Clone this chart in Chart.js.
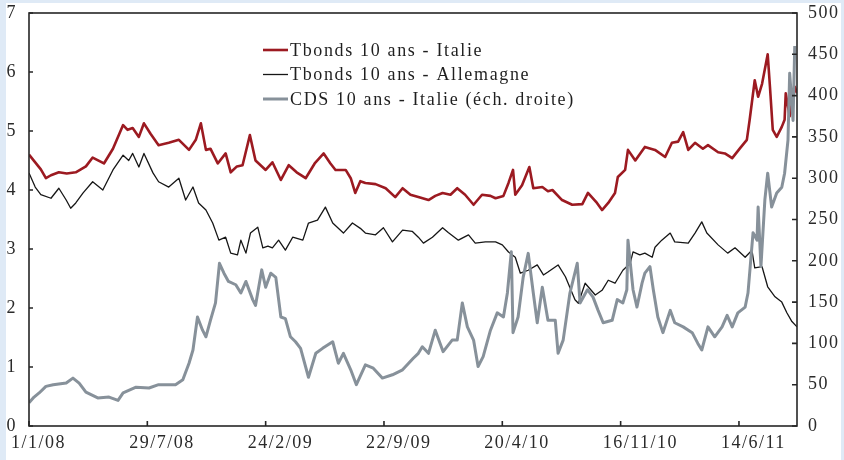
<!DOCTYPE html>
<html>
<head>
<meta charset="utf-8">
<script src="https://cdn.jsdelivr.net/npm/chart.js@4.4.0/dist/chart.umd.min.js"></script>
<style>
  html, body { margin: 0; padding: 0; background: #dfeaf6; }
  canvas { display: block; }
</style>
</head>
<body>
<canvas id="graf" width="844" height="460"></canvas>
<script>
// axe des x : jours depuis le 1/1/08
const tickDays = [0, 210, 420, 630, 840, 1050, 1260];
const tickLabels = ['1/1/08', '29/7/08', '24/2/09', '22/9/09', '20/4/10', '16/11/10', '14/6/11'];
const lastDay = 1363;

const italieJours = [0,21,30,39,53,67,83,101,113,133,149,167,175,184,195,204,216,230,248,266,
  284,296,305,314,322,335,349,358,369,379,392,402,420,432,447,461,475,491,507,523,
  535,544,562,571,579,588,597,615,633,650,663,677,691,709,721,734,748,760,774,789,
  804,819,828,842,851,859,863,875,888,895,911,921,929,946,964,982,992,1008,1017,1028,
  1040,1045,1058,1063,1076,1093,1111,1129,1141,1152,1161,1170,1182,1196,1205,1223,1235,1248,1262,1274,
  1279,1288,1294,1301,1311,1315,1320,1327,1336,1341,1343,1350,1359,1363];
const italieTaux = [4.6,4.35,4.2,4.25,4.3,4.28,4.3,4.4,4.55,4.45,4.7,5.1,5.02,5.05,4.9,5.13,4.95,4.76,4.8,4.85,
  4.68,4.85,5.13,4.68,4.7,4.45,4.62,4.3,4.4,4.42,4.93,4.5,4.34,4.47,4.17,4.42,4.3,4.2,4.45,4.62,
  4.45,4.34,4.34,4.2,3.95,4.15,4.12,4.1,4.03,3.88,4.03,3.92,3.88,3.83,3.9,3.95,3.92,4.03,3.92,3.75,
  3.92,3.9,3.86,3.9,4.12,4.34,3.92,4.08,4.39,4.03,4.05,3.98,4.0,3.83,3.75,3.76,3.95,3.78,3.66,3.78,
  3.95,4.22,4.34,4.68,4.5,4.73,4.68,4.56,4.8,4.82,4.98,4.68,4.8,4.7,4.76,4.64,4.62,4.54,4.71,4.85,
  5.19,5.86,5.58,5.8,6.3,5.75,5.02,4.9,5.07,5.19,5.64,5.25,5.75,5.64];

const allemagneJours = [0,11,21,39,53,66,74,83,96,113,131,149,167,177,184,195,204,220,230,248,
  266,278,291,301,314,326,337,349,358,370,376,385,393,406,415,424,432,443,455,468,
  486,496,512,526,539,558,574,588,597,615,629,645,663,680,691,700,716,734,744,762,
  780,792,810,828,840,851,863,872,886,902,913,921,939,952,969,975,987,1005,1017,1028,
  1040,1054,1067,1072,1084,1093,1106,1111,1123,1138,1146,1170,1182,1194,1203,1223,1240,1253,1271,1283,
  1288,1301,1311,1324,1336,1345,1354,1363];
const allemagneTaux = [4.29,4.05,3.92,3.86,4.03,3.83,3.69,3.78,3.95,4.14,4.0,4.34,4.59,4.5,4.62,4.39,4.62,4.29,4.14,4.05,
  4.2,3.83,4.05,3.78,3.66,3.44,3.15,3.2,2.93,2.9,3.15,2.93,3.27,3.37,3.02,3.05,3.02,3.15,2.98,3.2,
  3.15,3.44,3.49,3.71,3.44,3.27,3.44,3.35,3.27,3.24,3.36,3.12,3.32,3.3,3.2,3.1,3.2,3.36,3.28,3.15,
  3.24,3.1,3.12,3.12,3.07,2.95,2.86,2.59,2.64,2.73,2.56,2.61,2.73,2.53,2.14,2.08,2.42,2.22,2.3,2.47,
  2.42,2.64,2.76,2.95,2.9,2.93,2.86,3.03,3.15,3.27,3.12,3.1,3.27,3.46,3.27,3.07,2.93,3.02,2.86,2.98,
  2.68,2.7,2.36,2.19,2.1,1.92,1.77,1.68];

const cdsJours = [0,9,18,30,43,66,78,89,101,122,142,158,167,190,213,230,260,273,284,291,
  299,308,314,322,331,338,346,354,367,376,385,397,402,413,420,429,438,447,455,464,
  473,482,496,509,521,539,549,558,571,581,597,611,627,645,663,682,691,698,709,721,
  735,751,760,769,778,789,797,806,819,831,842,849,856,859,868,877,886,895,902,911,
  921,934,939,948,960,973,978,991,1001,1010,1019,1035,1044,1054,1061,1063,1072,1079,1088,1093,
  1102,1108,1116,1125,1138,1146,1161,1177,1187,1194,1205,1217,1230,1239,1248,1258,1271,1276,1285,1292,
  1294,1299,1306,1311,1318,1327,1336,1341,1347,1350,1356,1359];
const cdsItalie = [28,35,40,48,50,52,58,52,41,34,35,31,40,47,46,50,50,56,76,92,
  132,116,108,128,149,197,185,175,171,161,175,153,146,189,168,185,180,132,130,108,
  102,94,59,88,94,102,76,88,68,50,74,70,58,62,68,82,88,96,88,116,
  90,104,104,149,120,104,72,84,116,137,132,161,211,113,132,180,209,161,125,168,
  128,128,88,104,161,197,149,165,156,140,125,128,153,149,165,225,165,144,173,185,
  193,165,132,113,140,125,120,113,100,92,120,108,120,134,120,137,144,161,234,225,
  265,193,274,306,265,282,289,306,346,427,370,460];

function points(jours, vals) {
  return jours.map((j, i) => ({ x: j, y: vals[i] }));
}

const police = '"Liberation Serif", "DejaVu Serif", serif';

const decor = {
  id: 'decor',
  beforeDraw(chart) {
    const ctx = chart.ctx;
    ctx.save();
    ctx.fillStyle = '#dfeaf6';
    ctx.fillRect(0, 0, 844, 460);
    ctx.fillStyle = '#ffffff';
    ctx.fillRect(6, 3, 835, 457);
    ctx.restore();
    ctx.letterSpacing = '1.5px';
  },
  afterDraw(chart) {
    const { ctx, chartArea: a, scales } = chart;
    ctx.save();
    ctx.strokeStyle = '#262626';
    ctx.lineWidth = 1.6;
    ctx.strokeRect(a.left, a.top, a.right - a.left, a.bottom - a.top);
    ctx.beginPath();
    scales.y.ticks.forEach(t => {
      const py = scales.y.getPixelForValue(t.value);
      ctx.moveTo(a.left, py); ctx.lineTo(a.left + 4, py);
    });
    scales.y1.ticks.forEach(t => {
      const py = scales.y1.getPixelForValue(t.value);
      ctx.moveTo(a.right, py); ctx.lineTo(a.right - 5, py);
    });
    scales.x.ticks.forEach(t => {
      const px = scales.x.getPixelForValue(t.value);
      ctx.moveTo(px, a.bottom); ctx.lineTo(px, a.bottom - 5);
    });
    ctx.stroke();

    // legende
    ctx.font = '18px ' + police;
    ctx.letterSpacing = '1.65px';
    ctx.textBaseline = 'middle';
    ctx.textAlign = 'left';
    chart.data.datasets.forEach((ds, i) => {
      const y = 50 + i * 24.5;
      ctx.beginPath();
      ctx.strokeStyle = ds.borderColor;
      ctx.lineWidth = ds.borderWidth;
      ctx.moveTo(263, y); ctx.lineTo(288, y);
      ctx.stroke();
      ctx.fillStyle = '#1f1f1f';
      ctx.fillText(ds.label, 290, y + 1);
    });
    ctx.restore();
  }
};

function fixY(width) {
  return s => { s.width = width; s.paddingTop = 0; s.paddingBottom = 0; };
}

new Chart(document.getElementById('graf'), {
  type: 'line',
  data: {
    datasets: [
      {
        label: 'Tbonds 10 ans - Italie',
        data: points(italieJours, italieTaux),
        borderColor: '#9c1a21',
        borderWidth: 2.6,
        yAxisID: 'y',
        order: 1
      },
      {
        label: 'Tbonds 10 ans - Allemagne',
        data: points(allemagneJours, allemagneTaux),
        borderColor: '#161616',
        borderWidth: 1.3,
        yAxisID: 'y',
        order: 2
      },
      {
        label: 'CDS 10 ans - Italie (éch. droite)',
        data: points(cdsJours, cdsItalie),
        borderColor: '#87919a',
        borderWidth: 3,
        yAxisID: 'y1',
        order: 0
      }
    ]
  },
  options: {
    responsive: false,
    animation: false,
    layout: { padding: { top: 13, left: 0, right: 0, bottom: 0 } },
    elements: {
      point: { radius: 0 },
      line: { tension: 0, borderJoinStyle: 'round', fill: false }
    },
    plugins: {
      legend: { display: false },
      tooltip: { enabled: false }
    },
    scales: {
      x: {
        type: 'linear',
        min: 0,
        max: lastDay,
        afterBuildTicks: s => { s.ticks = tickDays.map(v => ({ value: v })); },
        afterFit: s => { s.height = 34; s.paddingLeft = 0; s.paddingRight = 0; },
        grid: { display: false, drawTicks: false },
        border: { display: false },
        ticks: {
          autoSkip: false,
          maxRotation: 0,
          align: 'start',
          labelOffset: -18,
          padding: 6,
          color: '#2a2a2a',
          font: { family: police, size: 18 },
          callback: v => tickLabels[tickDays.indexOf(v)]
        }
      },
      y: {
        position: 'left',
        min: 0,
        max: 7,
        afterFit: fixY(29),
        grid: { display: false, drawTicks: false },
        border: { display: false },
        ticks: {
          stepSize: 1,
          padding: 12,
          color: '#2a2a2a',
          font: { family: police, size: 18 }
        }
      },
      y1: {
        position: 'right',
        min: 0,
        max: 500,
        afterFit: fixY(47),
        grid: { display: false, drawTicks: false },
        border: { display: false },
        ticks: {
          stepSize: 50,
          padding: 11,
          color: '#2a2a2a',
          font: { family: police, size: 18 }
        }
      }
    }
  },
  plugins: [decor]
});
</script>
</body>
</html>
